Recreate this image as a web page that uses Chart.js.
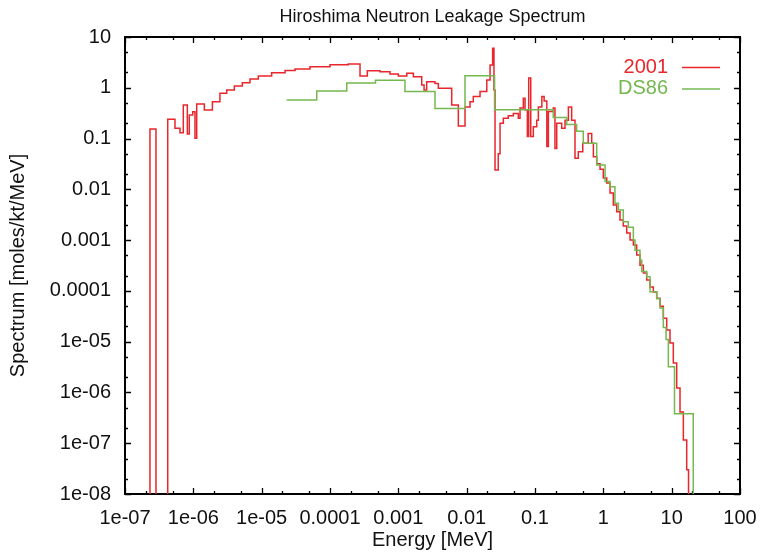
<!DOCTYPE html>
<html>
<head>
<meta charset="utf-8">
<script src="https://cdn.jsdelivr.net/npm/chart.js@4.4.1/dist/chart.umd.min.js"></script>
<style>
  html, body { margin: 0; padding: 0; background: #ffffff; }
  #wrap { width: 760px; height: 555px; position: relative; }
</style>
</head>
<body>
<div id="wrap"><canvas id="c" width="760" height="555"></canvas></div>
<script>
// ---- data ----
const chartTitle = 'Hiroshima Neutron Leakage Spectrum';
const xAxisTitle = 'Energy [MeV]';
const yAxisTitle = 'Spectrum [moles/kt/MeV]';

const xTickValues = [1e-7, 1e-6, 1e-5, 1e-4, 1e-3, 1e-2, 1e-1, 1, 10, 100];
const xTickLabels = ['1e-07', '1e-06', '1e-05', '0.0001', '0.001', '0.01', '0.1', '1', '10', '100'];
const yTickValues = [1e-8, 1e-7, 1e-6, 1e-5, 1e-4, 1e-3, 1e-2, 1e-1, 1, 10];
const yTickLabels = ['1e-08', '1e-07', '1e-06', '1e-05', '0.0001', '0.001', '0.01', '0.1', '1', '10'];
const minorMultipliers = [2, 5];

const seriesNames = ['2001', 'DS86'];

// 2001: bin lower edge energy [MeV] and spectrum value in that bin
const energy2001 = [
  1.5e-7, 2.32e-7, 2.84e-7, 4.22e-7, 5.39e-7, 6.38e-7, 7.13e-7, 8.17e-7, 8.73e-7, 9.8e-7,
  1.057e-6, 1.12e-6, 1.45e-6, 1.90e-6, 2.45e-6, 3.08e-6, 3.98e-6, 5.21e-6, 6.75e-6, 8.93e-6,
  1.40e-5, 2.20e-5, 3.08e-5, 5.09e-5, 1.0e-4, 1.85e-4, 2.75e-4, 3.52e-4, 5.4e-4, 7.55e-4,
  1.0e-3, 1.33e-3, 1.66e-3, 2.2e-3, 2.38e-3, 2.6e-3, 3.44e-3, 3.85e-3, 6.04e-3, 7.55e-3,
  9.46e-3, 1.12e-2, 1.25e-2, 1.57e-2, 1.97e-2, 2.2e-2, 2.4e-2, 2.51e-2, 2.6e-2, 2.9e-2,
  3.08e-2, 3.44e-2, 4.06e-2, 4.82e-2, 5.7e-2, 6.04e-2, 6.75e-2, 7.15e-2, 7.73e-2, 8.09e-2,
  8.67e-2, 9.46e-2, 0.106, 0.112, 0.126, 0.136, 0.149, 0.157, 0.185, 0.196,
  0.208, 0.246, 0.275, 0.308, 0.344, 0.385, 0.43, 0.5, 0.6, 0.676,
  0.715, 0.8, 0.895, 1.0, 1.121, 1.253, 1.40, 1.57, 1.754, 1.96,
  2.20, 2.46, 2.75, 3.08, 3.44, 3.85, 4.31, 4.82, 5.39, 6.04,
  6.76, 7.55, 8.47, 9.46, 10.57, 11.85, 13.25, 14.82, 16.6, 17.65
];
const spectrum2001 = [
  1e-10, 0.154, 1e-10, 0.24, 0.159, 0.130, 0.458, 0.123, 0.29, 0.338,
  0.101, 0.48, 0.365, 0.53, 0.78, 0.90, 1.08, 1.26, 1.49, 1.71,
  1.98, 2.2, 2.35, 2.6, 2.85, 2.95, 1.71, 2.17, 2.07, 1.87,
  1.71, 1.93, 1.65, 1.13, 0.90, 1.32, 1.22, 0.98, 0.46, 0.177,
  0.42, 0.53, 0.67, 0.84, 1.43, 2.8, 6.0, 0.9, 0.024, 0.05,
  0.2, 0.25, 0.28, 0.31, 0.25, 0.4, 0.62, 0.37, 0.11, 1.55,
  0.11, 0.17, 0.23, 0.42, 0.67, 0.55, 0.07, 0.34, 0.4, 0.064,
  0.2, 0.16, 0.23, 0.42, 0.23, 0.041, 0.055, 0.081, 0.126, 0.081,
  0.044, 0.032, 0.025, 0.0167, 0.0133, 0.0085, 0.0049, 0.0036, 0.0025, 0.0019,
  0.00138, 0.001, 0.0008, 0.00051, 0.00032, 0.000225, 0.000164, 0.000119, 9.5e-5, 7.2e-5,
  5.0e-5, 2.9e-5, 1.7e-5, 9.4e-6, 3.8e-6, 1.22e-6, 4.1e-7, 1.16e-7, 3.0e-8, 1e-10
];

// DS86: bin lower edge energy [MeV] and spectrum value in that bin
const energyDS86 = [
  2.32e-5, 6.4e-5, 1.76e-4, 4.63e-4, 1.25e-3, 3.44e-3, 9.46e-3, 2.56e-2, 0.185, 0.291,
  0.407, 0.509, 0.80, 1.06, 1.253, 1.48, 1.66, 1.96, 2.32, 2.75,
  2.91, 3.44, 3.65, 4.31, 4.82, 6.04, 6.76, 7.55, 8.28, 8.94,
  11.0, 20.7
];
const spectrumDS86 = [
  0.574, 0.86, 1.24, 1.40, 0.84, 0.39, 1.72, 0.37, 0.26, 0.19,
  0.14, 0.081, 0.03, 0.0142, 0.0112, 0.0053, 0.0039, 0.0023, 0.0018, 0.0010,
  0.00063, 0.0004, 0.00024, 0.00019, 9.6e-5, 7.0e-5, 4.6e-5, 1.9e-5, 1.1e-5, 3.2e-6,
  3.8e-7, 1e-10
];

// ---- styling ----
const FONT = "'Liberation Sans', Arial, Helvetica, sans-serif";
const TEXT = '#111111';
const RED = '#e8262b';
const GREEN = '#74b84f';

const toPoints = (xs, ys) => xs.map((x, i) => ({ x: x, y: ys[i] }));

const framePlugin = {
  id: 'gnuplotFrame',
  beforeDatasetsDraw(chart) {
    const { ctx, chartArea: a, scales } = chart;
    ctx.save();
    ctx.strokeStyle = '#000';
    ctx.lineWidth = 1.3;
    ctx.beginPath();
    const xs = scales.x;
    xTickValues.forEach((v, i) => {
      const px = Math.round(xs.getPixelForValue(v)) + 0.5;
      ctx.moveTo(px, a.bottom); ctx.lineTo(px, a.bottom - 6);
      ctx.moveTo(px, a.top); ctx.lineTo(px, a.top + 6);
      if (i < xTickValues.length - 1) {
        minorMultipliers.forEach(m => {
          const mx = Math.round(xs.getPixelForValue(v * m)) + 0.5;
          ctx.moveTo(mx, a.bottom); ctx.lineTo(mx, a.bottom - 3);
          ctx.moveTo(mx, a.top); ctx.lineTo(mx, a.top + 3);
        });
      }
    });
    const ys = scales.y;
    yTickValues.forEach((v, i) => {
      const py = Math.round(ys.getPixelForValue(v)) + 0.5;
      ctx.moveTo(a.left, py); ctx.lineTo(a.left + 6, py);
      ctx.moveTo(a.right, py); ctx.lineTo(a.right - 6, py);
      if (i < yTickValues.length - 1) {
        minorMultipliers.forEach(m => {
          const my = Math.round(ys.getPixelForValue(v * m)) + 0.5;
          ctx.moveTo(a.left, my); ctx.lineTo(a.left + 3, my);
          ctx.moveTo(a.right, my); ctx.lineTo(a.right - 3, my);
        });
      }
    });
    ctx.stroke();
    ctx.lineWidth = 2;
    ctx.strokeRect(a.left, a.top, a.right - a.left, a.bottom - a.top);
    ctx.restore();
  },
  afterDraw(chart) {
    const { ctx, chartArea: a } = chart;
    ctx.save();
    // title centred over the plot area (gnuplot style)
    ctx.font = '18px ' + FONT;
    ctx.fillStyle = TEXT;
    ctx.textAlign = 'center';
    ctx.textBaseline = 'middle';
    ctx.fillText(chartTitle, (a.left + a.right) / 2, 17);
    // gnuplot-style key: text right-aligned, then line sample
    ctx.font = '20px ' + FONT;
    ctx.textAlign = 'right';
    const textRight = a.right - 72;
    const lineStart = a.right - 58;
    const lineEnd = a.right - 20;
    chart.data.datasets.forEach((ds, i) => {
      const y = a.top + 30 + i * 21.5;
      ctx.fillStyle = ds.borderColor;
      ctx.fillText(ds.label, textRight, y);
      ctx.strokeStyle = ds.borderColor;
      ctx.lineWidth = 1.5;
      ctx.beginPath();
      ctx.moveTo(lineStart, y + 0.5);
      ctx.lineTo(lineEnd, y + 0.5);
      ctx.stroke();
    });
    ctx.restore();
  }
};

new Chart(document.getElementById('c'), {
  type: 'line',
  data: {
    datasets: [
      {
        label: seriesNames[0],
        data: toPoints(energy2001, spectrum2001),
        borderColor: RED,
        backgroundColor: RED,
        borderWidth: 1.5,
        pointRadius: 0,
        stepped: 'before',
        fill: false,
        order: 2
      },
      {
        label: seriesNames[1],
        data: toPoints(energyDS86, spectrumDS86),
        borderColor: GREEN,
        backgroundColor: GREEN,
        borderWidth: 1.5,
        pointRadius: 0,
        stepped: 'before',
        fill: false,
        order: 1
      }
    ]
  },
  options: {
    responsive: false,
    animation: false,
    events: [],
    layout: { padding: { left: 0, right: 20, top: 37, bottom: 0 } },
    plugins: {
      legend: { display: false },
      tooltip: { enabled: false },
      title: { display: false }
    },
    scales: {
      x: {
        type: 'logarithmic',
        min: 1e-7,
        max: 100,
        grid: { display: false, drawTicks: false },
        border: { display: false },
        afterBuildTicks: (s) => { s.ticks = xTickValues.map(v => ({ value: v })); },
        afterFit: (s) => { s.height = 61; s.paddingLeft = 0; s.paddingRight = 0; },
        ticks: {
          autoSkip: false,
          maxRotation: 0,
          padding: 12,
          color: TEXT,
          font: { family: FONT, size: 20 },
          callback: (v, i) => xTickLabels[i]
        },
        title: {
          display: true,
          text: xAxisTitle,
          color: TEXT,
          font: { family: FONT, size: 20 },
          padding: { top: 0, bottom: 3 }
        }
      },
      y: {
        type: 'logarithmic',
        min: 1e-8,
        max: 10,
        grid: { display: false, drawTicks: false },
        border: { display: false },
        afterBuildTicks: (s) => { s.ticks = yTickValues.map(v => ({ value: v })); },
        afterFit: (s) => { s.width = 125; s.paddingTop = 0; s.paddingBottom = 0; },
        ticks: {
          autoSkip: false,
          padding: 14,
          color: TEXT,
          font: { family: FONT, size: 20 },
          callback: (v, i) => yTickLabels[i]
        },
        title: {
          display: true,
          text: yAxisTitle,
          color: TEXT,
          font: { family: FONT, size: 20 },
          padding: { top: 6, bottom: 0 }
        }
      }
    }
  },
  plugins: [framePlugin]
});
</script>
</body>
</html>
